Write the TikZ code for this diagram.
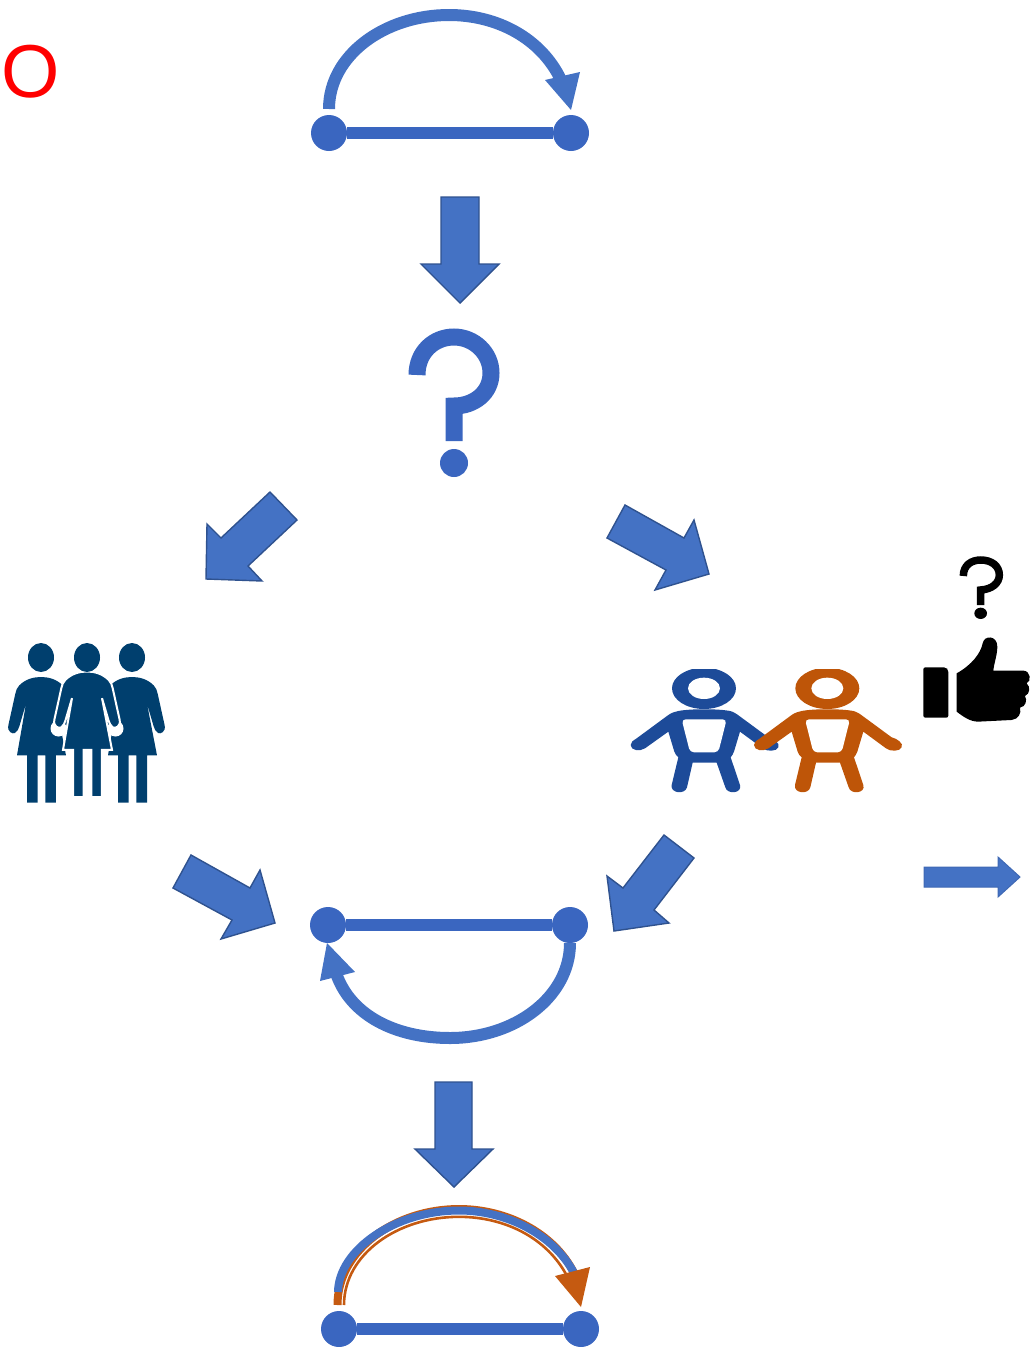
\documentclass[tikz,border=0pt]{standalone}
\usepackage{fontspec}
\setmainfont{Liberation Sans}
\definecolor{blk}{HTML}{4472C4}
\definecolor{blkedge}{HTML}{2F528F}
\definecolor{dotblue}{HTML}{3A66C0}
\definecolor{orng}{HTML}{C55A11}
\definecolor{navy}{HTML}{003F6E}
\definecolor{kidblue}{HTML}{1D4B99}
\definecolor{kidorange}{HTML}{BE5508}
\tikzset{
  blockarrow/.style={fill=blk,draw=blkedge,line width=1.4pt,line join=miter},
  dotnode/.style={circle,fill=dotblue,minimum size=36pt,inner sep=0pt,draw=none},
  barline/.style={draw=dotblue,line width=12pt},
  arcline/.style={draw=blk,line width=12pt},
  headtip/.style={fill=blk,draw=none},
}
\newcommand{\womanbody}{%
  (-65,25) .. controls (-45,5) and (-20,0) .. (0,0) .. controls (20,0) and (45,5) .. (65,25)
  .. controls (72,32) and (75,40) .. (77,50) -- (98,145)
  .. controls (102,165) and (85,172) .. (78,168) .. controls (70,164) and (68,155) .. (65,148) -- (45,80)
  -- (75,235) -- (45,235) -- (45,377) -- (13,377) -- (13,235) -- (-10,235) -- (-10,377) -- (-42,377) -- (-42,235) -- (-72,235)
  -- (-45,80) -- (-65,148) .. controls (-68,155) and (-70,164) .. (-78,168)
  .. controls (-85,172) and (-102,165) .. (-98,145) -- (-77,50)
  .. controls (-75,40) and (-72,32) .. (-65,25) -- cycle}
\newcommand{\kid}[2]{%
  \begin{scope}[shift={(620+#1/3,650)},x=0.3333pt,y=-0.3333pt]
    \begin{scope}
      \clip (-50,57) rectangle (1000,500);
      \fill[#2] (252,115) ellipse [x radius=96,y radius=62];
    \end{scope}
    \fill[white] (252,115) ellipse [x radius=48,y radius=32];
    \fill[#2] (175,183) .. controls (210,176) and (295,176) .. (330,183)
      .. controls (340,185) and (350,192) .. (358,198) -- (445,262)
      .. controls (460,265) and (482,280) .. (475,292) .. controls (470,305) and (440,305) .. (428,295)
      -- (360,245) -- (342,305) .. controls (340,312) and (335,318) .. (332,322)
      -- (360,405) .. controls (368,430) and (322,435) .. (316,412)
      -- (290,338) -- (218,338) -- (201,412) .. controls (195,435) and (150,430) .. (155,405)
      -- (175,322) .. controls (170,318) and (165,312) .. (163,305)
      -- (145,245) -- (75,295) .. controls (60,305) and (32,302) .. (32,285)
      .. controls (32,275) and (40,272) .. (50,265)
      -- (145,195) .. controls (155,188) and (165,185) .. (175,183) -- cycle;
    \fill[white,rounded corners=4pt] (185,208) -- (320,208) -- (295,307) -- (210,307) -- cycle;
  \end{scope}}
\begin{document}
\begin{tikzpicture}[x=1pt,y=-1pt]
\useasboundingbox (0,0) rectangle (1030,1347);
\node[text=red,font=\fontsize{75}{75}\selectfont,inner sep=0pt] (oletter) at (31,72) {O};

% top
\node[dotnode] (a1) at (329,133) {};
\node[dotnode] (a2) at (571,133) {};
\draw[barline] (a1) -- (a2);
\coordinate (a3) at (329,109);
\coordinate (a4) at (561,80);
\draw[arcline] (a3) .. controls (329,55) and (385,15) .. (449,15) .. controls (497,15) and (541,38) .. (a4);
\fill[headtip] (580,72) -- (545,80) -- (571,110) -- cycle;

% block arrows
\draw[blockarrow] (441,197) -- (479,197) -- (479,264) -- (499,264) -- (460,303) -- (421,264) -- (441,264) -- cycle;
\draw[blockarrow] (270,492) -- (297,520) -- (248,566) -- (262,581) -- (206,579) -- (207,524) -- (221,538) -- cycle;
\draw[blockarrow] (625,505) -- (607,538) -- (666,570) -- (655,590) -- (709,574) -- (694,520) -- (684,538) -- cycle;
\draw[blockarrow] (191,855) -- (173,888) -- (232,920) -- (221,939) -- (275,923) -- (260,870) -- (250,888) -- cycle;
\draw[blockarrow] (664,835) -- (694,858) -- (654,910) -- (669,923) -- (614,931) -- (607,876) -- (623,888) -- cycle;
\draw[blockarrow] (435,1082) -- (472,1082) -- (472,1149) -- (493,1149) -- (454,1187) -- (415,1149) -- (435,1149) -- cycle;
\draw[blockarrow,line width=1pt,draw=blk!70!blkedge] (924,867) -- (998,867) -- (998,857) -- (1020,877) -- (998,897) -- (998,887) -- (924,887) -- cycle;

% blue question mark
\draw[draw=dotblue,line width=17pt] (417,375) .. controls (417,352) and (434,337) .. (454,337)
  .. controls (474,337) and (491,353) .. (491,373) .. controls (491,393) and (474,406) .. (454,406) -- (454,441);
\fill[dotblue] (454,463) circle (14);

% women
\fill[navy] (41,657.5) ellipse [x radius=13,y radius=14.5];
\fill[navy] (132,657.5) ellipse [x radius=13,y radius=14.5];
\begin{scope}[shift={(41,677)},x=0.3333pt,y=-0.3333pt]
  \fill[navy] \womanbody;
\end{scope}
\begin{scope}[shift={(132,677)},x=0.3333pt,y=-0.3333pt]
  \fill[navy] \womanbody;
\end{scope}
\fill[white] (58.5,728.5) circle (8);
\fill[white] (115.5,728.5) circle (8);
\begin{scope}[shift={(87,671.5)},x=0.3333pt,y=-0.3333pt]
  \filldraw[navy,draw=white,line width=2pt] \womanbody;
\end{scope}
\fill[navy] (87,657.5) ellipse [x radius=13,y radius=14.5];

% kids
\kid{0}{kidblue}
\kid{370}{kidorange}

% question and thumb
\begin{scope}[shift={(910,540)},x=0.3333pt,y=-0.3333pt]
  \draw[black,line width=7.5pt] (160,108) .. controls (160,75) and (185,60) .. (212,60)
     .. controls (245,60) and (268,78) .. (268,105) .. controls (268,130) and (245,148) .. (212,150) -- (212,195);
  \fill[black] (212,220) ellipse [x radius=19,y radius=17];
  \fill[black,rounded corners=2pt] (40,382) -- (108,382) -- (115,390) -- (115,533) -- (40,533) -- cycle;
  \fill[black] (140,400) .. controls (185,375) and (212,340) .. (218,310)
    .. controls (222,285) and (262,285) .. (262,320) .. controls (262,345) and (252,370) .. (250,392)
    -- (340,392) .. controls (362,392) and (365,425) .. (350,430) .. controls (362,440) and (360,462) .. (345,468)
    .. controls (352,480) and (348,500) .. (330,503) .. controls (335,520) and (325,538) .. (305,540)
    -- (205,545) .. controls (180,545) and (160,530) .. (140,515) -- cycle;
\end{scope}

% middle
\node[dotnode] (b1) at (328,925) {};
\node[dotnode] (b2) at (570,925) {};
\draw[barline] (b1) -- (b2);
\coordinate (b3) at (570,943);
\coordinate (b4) at (336,973);
\draw[arcline] (b3) .. controls (570,997) and (515,1038) .. (450,1038) .. controls (395,1038) and (350,1015) .. (b4);
\fill[headtip] (327,943) -- (320,981) -- (355,972) -- cycle;

% bottom
\node[dotnode] (c1) at (339,1329) {};
\node[dotnode] (c2) at (581,1329) {};
\draw[barline] (c1) -- (c2);
\coordinate (c3) at (337.5,1305);
\coordinate (c4) at (574,1273);
\coordinate (c5) at (344,1305);
\coordinate (c6) at (567,1276);
\draw[draw=orng,line width=8pt] (c3) .. controls (337.5,1250) and (395,1209) .. (459,1209) .. controls (507,1209) and (554,1233) .. (c4);
\draw[draw=orng,line width=2.6pt] (c5) .. controls (344,1254) and (398,1216.8) .. (459,1216.8) .. controls (505,1216.8) and (547,1238) .. (c6);
\draw[draw=blk,line width=8pt] (338,1292) .. controls (338.5,1250) and (395,1210.5) .. (459,1210.5) .. controls (507,1210.5) and (554,1235) .. (c4);
\fill[orng] (590,1267) -- (555,1276) -- (581,1307) -- cycle;
\end{tikzpicture}
\end{document}
